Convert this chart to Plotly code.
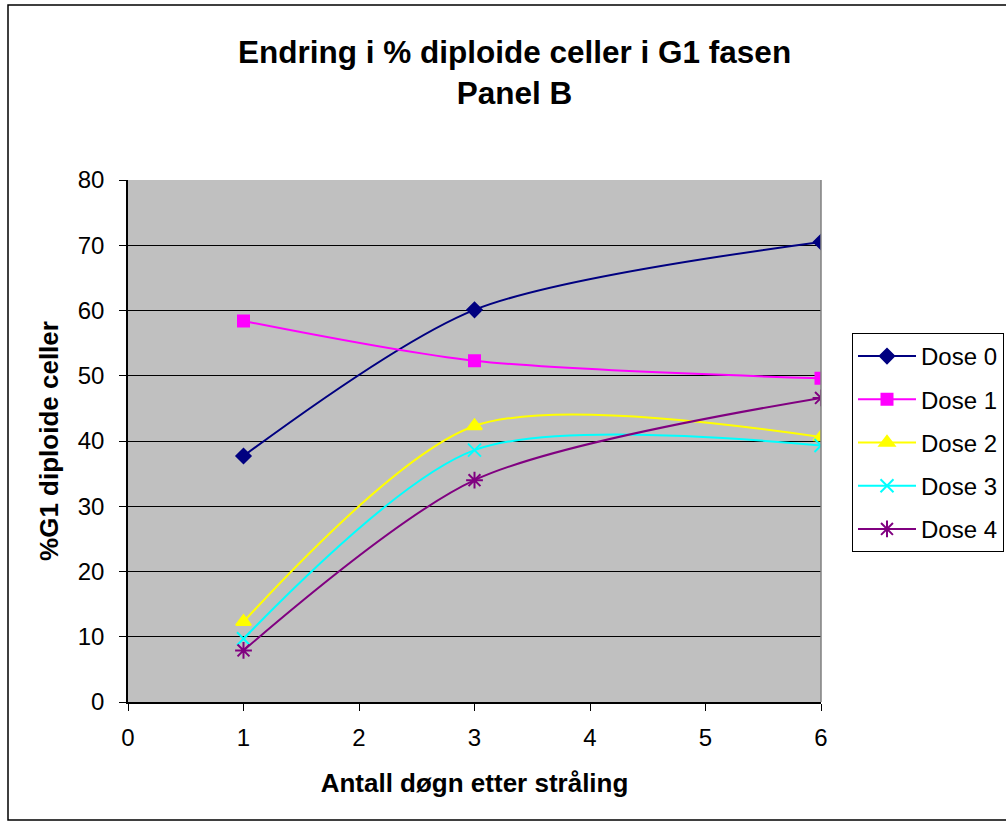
import plotly.graph_objects as go

# Days after irradiation and % diploid G1 cells per dose
days = [1, 3, 6]
dose0 = [37.7, 60.1, 70.5]
dose1 = [58.4, 52.3, 49.6]
dose2 = [12.3, 42.3, 40.6]
dose3 = [9.7, 38.6, 39.3]
dose4 = [7.9, 34.0, 46.6]

series_names = ["Dose 0", "Dose 1", "Dose 2", "Dose 3", "Dose 4"]
series_values = [dose0, dose1, dose2, dose3, dose4]
colors = ["#000080", "#FF00FF", "#FFFF00", "#00FFFF", "#800080"]
symbols = ["diamond", "square", "triangle-up", "x-thin-open", "asterisk-open"]
sizes = [11, 11, 13, 13, 14]

x_ticks = [0, 1, 2, 3, 4, 5, 6]
y_ticks = [0, 10, 20, 30, 40, 50, 60, 70, 80]

W, H = 1006, 824
L, R, T, B = 128, 185, 180, 122
pw, ph = W - L - R, H - T - B

fig = go.Figure()
for i, (name, vals) in enumerate(zip(series_names, series_values)):
    fig.add_trace(go.Scatter(
        x=days, y=vals, name=name, mode="lines+markers",
        line=dict(color=colors[i], width=2, shape="spline", smoothing=0.8),
        marker=dict(symbol=symbols[i], size=sizes[i], color=colors[i],
                    line=dict(color=colors[i], width=2)),
        legendgroup=f"g{i}",
    ))

def px_x(px):
    return (px - L) / pw

def px_y(py):
    return (H - B - py) / ph

fig.update_layout(
    width=W, height=H,
    margin=dict(l=L, r=R, t=T, b=B, autoexpand=False),
    paper_bgcolor="white",
    plot_bgcolor="#C0C0C0",
    font=dict(family="Liberation Sans, Arial, sans-serif", size=24, color="black"),
    showlegend=True,
    legend=dict(
        x=px_x(852), y=px_y(333), xanchor="left", yanchor="top",
        bgcolor="white", bordercolor="black", borderwidth=1,
        font=dict(size=24), itemwidth=58, tracegroupgap=9,
    ),
    xaxis=dict(
        range=[0, 6], tickvals=x_ticks, ticktext=[str(v) for v in x_ticks],
        showgrid=False, zeroline=False, showline=True, linecolor="black", linewidth=1.5,
        ticks="outside", ticklen=7, tickcolor="black", mirror=False,
        ticklabelstandoff=6,
        title=dict(text="<b>Antall døgn etter stråling</b>", font=dict(size=26), standoff=24),
    ),
    yaxis=dict(
        range=[0, 80], tickvals=y_ticks,
        showgrid=True, gridcolor="black", gridwidth=1, zeroline=False,
        showline=True, linecolor="black", linewidth=1.5,
        ticks="outside", ticklen=7, tickcolor="black",
        ticklabelstandoff=10,
        title=dict(text="<b>%G1 diploide celler</b>", font=dict(size=26), standoff=12),
    ),
    shapes=[
        # outer chart border
        dict(type="rect", xref="paper", yref="paper",
             x0=px_x(8), x1=px_x(1012), y0=px_y(820), y1=px_y(5),
             line=dict(color="black", width=1.5), layer="below"),
        # right edge of the plot area
        dict(type="line", xref="paper", yref="paper",
             x0=1, x1=1, y0=0, y1=1, line=dict(color="#808080", width=1.5)),
    ],
    annotations=[
        dict(text="<b>Endring i % diploide celler i G1 fasen<br>Panel B</b>",
             xref="paper", yref="paper", x=px_x(514), y=px_y(72),
             xanchor="center", yanchor="middle", showarrow=False,
             font=dict(size=31.5), align="center"),
    ],
)

fig.write_html("out.html")
